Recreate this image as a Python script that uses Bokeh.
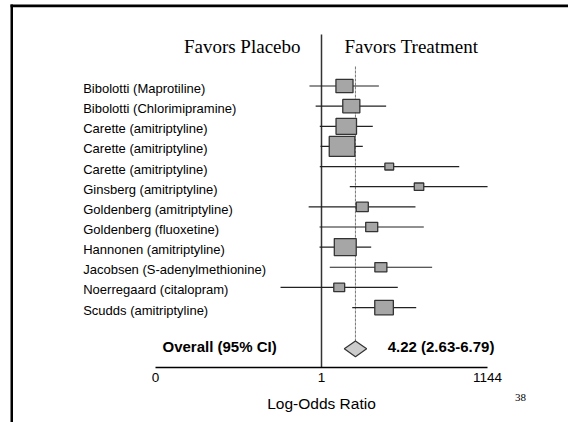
import numpy as np
from bokeh.plotting import figure
from bokeh.models import (Range1d, LinearAxis, FixedTicker, CustomJSTickFormatter,
                          Label, BoxAnnotation, ColumnDataSource)
from bokeh.core.properties import value
from bokeh.embed import file_html
from bokeh.resources import INLINE

# ---------------- data ----------------
studies = [
    "Bibolotti (Maprotiline)",
    "Bibolotti (Chlorimipramine)",
    "Carette (amitriptyline)",
    "Carette (amitriptyline)",
    "Carette (amitriptyline)",
    "Ginsberg (amitriptyline)",
    "Goldenberg (amitriptyline)",
    "Goldenberg (fluoxetine)",
    "Hannonen (amitriptyline)",
    "Jacobsen (S-adenylmethionine)",
    "Noerregaard (citalopram)",
    "Scudds (amitriptyline)",
]
odds_ratio = [2.65, 3.54, 2.86, 2.39, 17.7, 62.5, 5.64, 8.41, 2.74, 12.4, 2.12, 14.2]
ci_lower = [0.60, 0.78, 0.93, 0.96, 0.93, 3.32, 0.58, 0.92, 0.92, 1.42, 0.176, 3.68]
ci_upper = [11.4, 15.5, 8.8, 5.76, 344.0, 1144.0, 53.8, 76.6, 8.23, 109.0, 25.4, 55.5]
weights = [9.1, 9.1, 13.1, 20.5, 2.4, 2.8, 4.5, 4.5, 15.0, 4.5, 3.7, 10.8]

overall_or = 4.22
overall_lo = 2.63
overall_hi = 6.79
overall_label = "Overall (95% CI)"

axis_max = 1144.0
tick_labels = ["0", "1", "1144"]
header_left = "Favors Placebo"
header_right = "Favors Treatment"
x_title = "Log-Odds Ratio"
page_number = "38"

# ---------------- layout constants ----------------
W, H = 568, 422
PX0 = 321.0          # screen x of log-odds 0
K = 23.58            # px per log unit
ROW0 = 85.5          # screen y of first row
STEP = 20.14         # px per row
AXIS_Y = 367.3

def sx(px):  # screen px -> data x
    return (px - PX0) / K

def sy(py):  # screen px -> row
    return (py - ROW0) / STEP

n = len(studies)
rows = list(range(n))
overall_row = 13.05

ln_or = np.log(odds_ratio)
ln_lo = np.log(ci_lower)
ln_hi = np.log(ci_upper)
box_h = 4.42 * np.sqrt(weights)
box_w = 1.28 * box_h

src = ColumnDataSource(dict(study=studies, x=ln_or, lo=ln_lo, hi=ln_hi,
                            y=rows, bw=box_w, bh=box_h))

p = figure(width=W, height=H, output_backend="svg", toolbar_location=None,
           x_range=Range1d(sx(0), sx(W)), y_range=Range1d(sy(H), sy(0)),
           x_axis_location=None, y_axis_location=None,
           min_border_left=0, min_border_right=0, min_border_top=0, min_border_bottom=0)
p.outline_line_color = None
p.background_fill_color = "white"
p.border_fill_color = "white"
p.xgrid.visible = False
p.ygrid.visible = False

# axis (drawn at a fixed location inside the frame)
ax = LinearAxis(ticker=FixedTicker(ticks=[-np.log(axis_max), 0.0, np.log(axis_max)]),
                formatter=CustomJSTickFormatter(
                    args=dict(labels=tick_labels),
                    code="if (tick < -0.5) return labels[0]; if (tick > 0.5) return labels[2]; return labels[1];"),
                bounds=(-np.log(axis_max), np.log(axis_max)),
                fixed_location=sy(AXIS_Y))
ax.axis_line_color = "black"
ax.axis_line_width = 1.3
ax.major_tick_line_color = None
ax.minor_tick_line_color = None
ax.major_tick_out = 0
ax.major_tick_in = 0
ax.major_label_standoff = 5
ax.major_label_text_font = "Liberation Sans"
ax.major_label_text_font_size = "13.5px"
ax.major_label_text_color = "black"
ax.axis_label = x_title
ax.axis_label_text_font = "Liberation Sans"
ax.axis_label_text_font_size = "15.5px"
ax.axis_label_text_font_style = "normal"
ax.axis_label_text_color = "black"
ax.axis_label_standoff = 10
p.add_layout(ax, "below")

# reference lines
p.segment(x0=[0], y0=[sy(34)], x1=[0], y1=[sy(AXIS_Y)], line_color="#333333", line_width=1.5)
p.segment(x0=[np.log(overall_or)], y0=[sy(66)], x1=[np.log(overall_or)], y1=[overall_row],
          line_color="#777777", line_width=1, line_dash="3 1")

# whiskers and boxes
p.segment(x0="lo", y0="y", x1="hi", y1="y", source=src, line_color="#222222", line_width=1.2)
p.rect(x="x", y="y", width="bw", height="bh", width_units="screen", height_units="screen",
       source=src, fill_color="#a6a6a6", line_color="#333333", line_width=1.3)

# overall diamond
dh = 0.39
p.patch([np.log(overall_lo), np.log(overall_or), np.log(overall_hi), np.log(overall_or)],
        [overall_row, overall_row - dh, overall_row, overall_row + dh],
        fill_color="#cccccc", line_color="#333333", line_width=1.2)

# study labels
p.text(x=sx(82.7), y="y", text="study", source=src, text_font=value("Liberation Sans"),
       text_font_size="13px", text_baseline="middle", text_align="left",
       y_offset=2.5, text_color="black")

# headers
p.text(x=[0], y=[sy(45.5)], text=[header_left], text_font=value("Liberation Serif"),
       text_font_size="19px", text_align="right", text_baseline="alphabetic",
       x_offset=-21, text_color="black")
p.text(x=[0], y=[sy(45.5)], text=[header_right], text_font=value("Liberation Serif"),
       text_font_size="19px", text_align="left", text_baseline="alphabetic",
       x_offset=23, text_color="black")

# overall texts
p.text(x=[sx(162)], y=[overall_row], text=[overall_label], text_font=value("Liberation Sans"),
       text_font_size="15px", text_font_style="bold", text_baseline="middle",
       text_align="left", y_offset=-2.5, text_color="black")
p.text(x=[np.log(overall_hi)], y=[overall_row],
       text=[f"{overall_or:.2f} ({overall_lo:.2f}-{overall_hi:.2f})"],
       text_font=value("Liberation Sans"), text_font_size="15px", text_font_style="bold",
       text_baseline="middle", text_align="left", x_offset=21, y_offset=-2.5, text_color="black")

# page number
p.add_layout(Label(x=sx(520), y=sy(396.5), text=page_number, text_font="Liberation Serif",
                   text_font_size="11px", text_align="center", text_baseline="middle",
                   text_color="black"))

# slide frame borders
p.add_layout(BoxAnnotation(left=10, right=12.5, top=4, bottom=H,
                           left_units="canvas", right_units="canvas",
                           top_units="canvas", bottom_units="canvas",
                           fill_color="black", fill_alpha=1.0, line_color=None))
p.add_layout(BoxAnnotation(left=10, right=W, top=4, bottom=6.7,
                           left_units="canvas", right_units="canvas",
                           top_units="canvas", bottom_units="canvas",
                           fill_color="black", fill_alpha=1.0, line_color=None))

open("out.html", "w").write(file_html(p, INLINE))
